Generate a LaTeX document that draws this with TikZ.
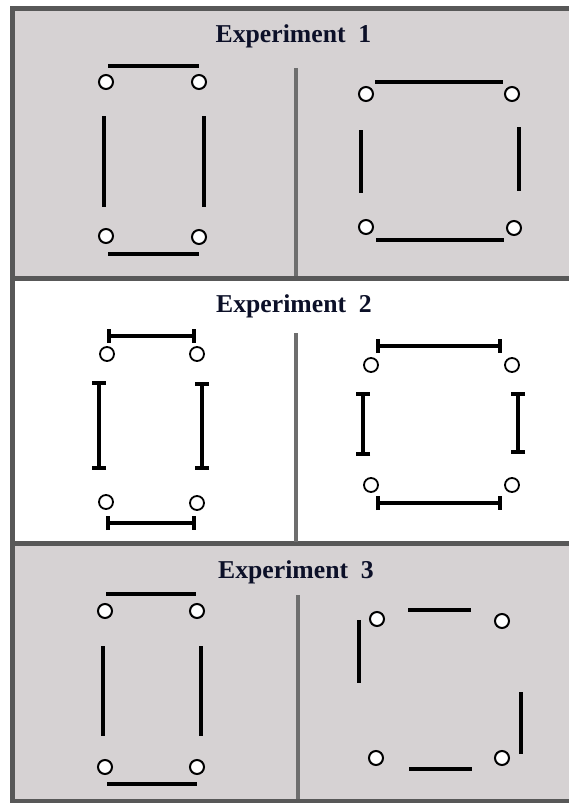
\documentclass[tikz,border=0pt]{standalone}
\usepackage{fontspec}
\setmainfont{Liberation Serif}
\usetikzlibrary{arrows.meta}
\definecolor{panelgray}{RGB}{214,210,211}
\definecolor{framegray}{RGB}{88,88,88}
\definecolor{divgray}{RGB}{110,110,110}
\definecolor{titleblue}{RGB}{12,16,40}
\tikzset{
  frameline/.style={draw=framegray,line width=5pt},
  divline/.style={draw=divgray,line width=4pt},
  seg/.style={draw=black,line width=4.3pt},
  ibar/.style={draw=black,line width=4pt,{Bar[width=14pt,line width=4pt]}-{Bar[width=14pt,line width=4pt]}},
  dot/.style={circle,draw=black,fill=white,line width=2pt,minimum size=14pt,inner sep=0pt},
  dotw/.style={circle,draw=black,fill=white,line width=1.8pt,minimum size=14pt,inner sep=0pt},
  title/.style={font=\bfseries\fontsize{25.7}{30}\selectfont,text=titleblue,anchor=base,inner sep=0pt}
}
\begin{document}
\begin{tikzpicture}[x=1pt,y=-1pt]
\useasboundingbox (0,0) rectangle (568,803);
% backgrounds
\fill[panelgray] (12,8) rectangle (570,278);
\fill[white] (12,278) rectangle (570,543.5);
\fill[panelgray] (12,543.5) rectangle (570,801);
% frame
\draw[frameline] (12,278) -- (572,278);
\draw[frameline] (12,543.5) -- (572,543.5);
\draw[frameline] (572,8) -- (12,8) -- (12,801) -- (572,801);
% vertical dividers
\draw[divline] (296,68) -- (296,276);
\draw[divline] (296,333) -- (296,541.5);
\draw[divline] (298,595) -- (298,799);
% titles
\node[title] (t1) at (293.5,42) {Experiment\ \ 1};
\node[title] (t2) at (294,312) {Experiment\ \ 2};
\node[title] (t3) at (296,578) {Experiment\ \ 3};

% ===== Experiment 1, left
\draw[seg] (108,66) -- (199,66);
\draw[seg] (104,116) -- (104,207);
\draw[seg] (204,116) -- (204,207);
\draw[seg] (108,254) -- (199,254);
\node[dot] (a1) at (106,82) {};
\node[dot] (a2) at (199,82) {};
\node[dot] (a3) at (106,236) {};
\node[dot] (a4) at (199,237) {};
% ===== Experiment 1, right
\draw[seg] (375,82) -- (503,82);
\draw[seg] (361,130) -- (361,193);
\draw[seg] (519,127) -- (519,191);
\draw[seg] (376,240) -- (504,240);
\node[dot] (b1) at (366,94) {};
\node[dot] (b2) at (512,94) {};
\node[dot] (b3) at (366,227) {};
\node[dot] (b4) at (514,228) {};

% ===== Experiment 2, left
\draw[ibar] (107,336) -- (196,336);
\draw[ibar] (99,381) -- (99,470);
\draw[ibar] (202,382) -- (202,470);
\draw[ibar] (106,523) -- (196,523);
\node[dotw] (c1) at (107,354) {};
\node[dotw] (c2) at (197,354) {};
\node[dotw] (c3) at (106,502) {};
\node[dotw] (c4) at (197,503) {};
% ===== Experiment 2, right
\draw[ibar] (376,346) -- (502,346);
\draw[ibar] (363,392) -- (363,456);
\draw[ibar] (518,392) -- (518,454);
\draw[ibar] (376,503) -- (502,503);
\node[dotw] (d1) at (371,365) {};
\node[dotw] (d2) at (512,365) {};
\node[dotw] (d3) at (371,485) {};
\node[dotw] (d4) at (512,485) {};

% ===== Experiment 3, left
\draw[seg] (106,594) -- (196,594);
\draw[seg] (103,646) -- (103,736);
\draw[seg] (201,646) -- (201,736);
\draw[seg] (107,784) -- (197,784);
\node[dot] (e1) at (105,611) {};
\node[dot] (e2) at (197,611) {};
\node[dot] (e3) at (105,767) {};
\node[dot] (e4) at (197,767) {};
% ===== Experiment 3, right
\draw[seg] (408,610) -- (471,610);
\draw[seg] (359,620) -- (359,683);
\draw[seg] (521,692) -- (521,754);
\draw[seg] (409,769) -- (472,769);
\node[dot] (f1) at (377,619) {};
\node[dot] (f2) at (502,621) {};
\node[dot] (f3) at (376,758) {};
\node[dot] (f4) at (502,758) {};
\end{tikzpicture}
\end{document}
